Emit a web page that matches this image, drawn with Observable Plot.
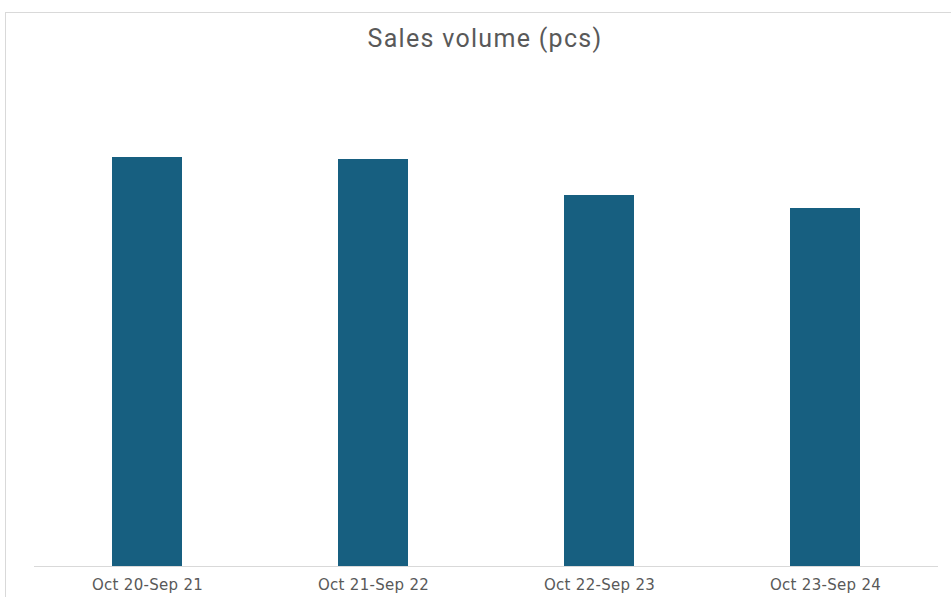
<!DOCTYPE html>
<html>
<head>
<meta charset="utf-8">
<script src="https://cdn.jsdelivr.net/npm/d3@7"></script>
<script src="https://cdn.jsdelivr.net/npm/@observablehq/plot@0.6"></script>
<style>
  html, body { margin: 0; padding: 0; background: #fff; overflow: hidden; }
  #wrap { position: relative; width: 951px; height: 597px; }
  #frame { position: absolute; left: 5px; top: 12px; width: 1000px; height: 700px; border: 1px solid #d9d9d9; box-sizing: border-box; }
  #title { position: absolute; left: 0; width: 970px; top: 24px; text-align: center; font-family: "Roboto", sans-serif; font-size: 25px; color: #595959; letter-spacing: 1.3px; }
  #chart { position: absolute; left: 0; top: 0; }
  #chart svg g[aria-label="x-axis tick label"] text { letter-spacing: 0.3px; }
</style>
</head>
<body>
<div id="wrap">
  <div id="frame"></div>
  <div id="title">Sales volume (pcs)</div>
  <div id="chart"></div>
</div>
<script>
const categories = ["Oct 20-Sep 21", "Oct 21-Sep 22", "Oct 22-Sep 23", "Oct 23-Sep 24"];
const values = [4090, 4070, 3710, 3580];

const data = categories.map((c, i) => ({period: c, value: values[i]}));

const chart = Plot.plot({
  width: 951,
  height: 597,
  marginLeft: 34,
  marginRight: 13,
  marginTop: 66,
  marginBottom: 31,
  style: {background: "transparent", fontFamily: "'DejaVu Sans', sans-serif", fontSize: "15px", color: "#595959"},
  x: {domain: categories, paddingInner: 0.69, paddingOuter: 0.345, label: null, tickSize: 0, tickPadding: 13},
  y: {domain: [0, 5000], axis: null},
  marks: [
    Plot.barY(data, {x: "period", y: "value", fill: "#175f80"}),
    Plot.ruleY([0], {stroke: "#d9d9d9", strokeWidth: 1})
  ]
});
document.getElementById("chart").appendChild(chart);
</script>
</body>
</html>
